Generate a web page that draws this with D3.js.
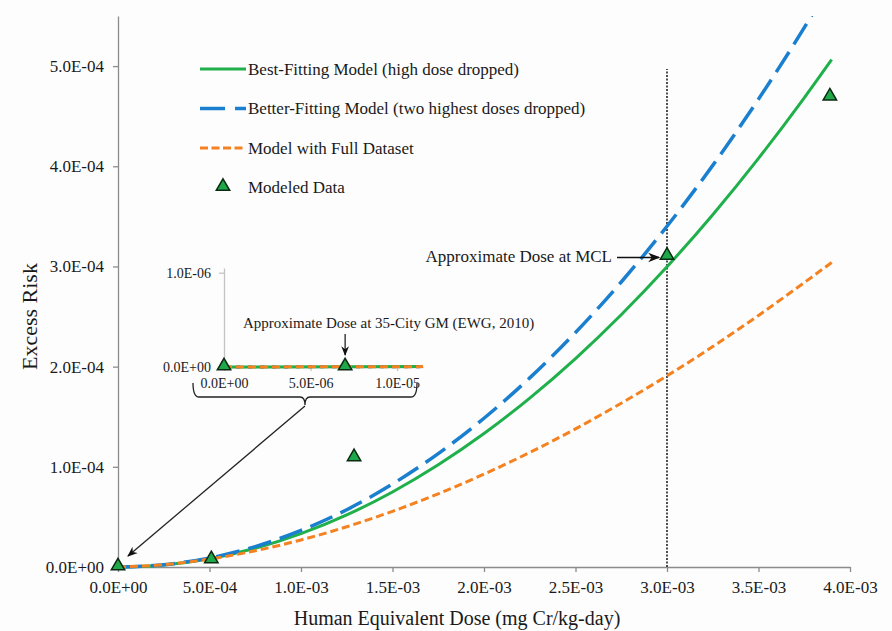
<!DOCTYPE html>
<html>
<head>
<meta charset="utf-8">
<script src="https://cdn.jsdelivr.net/npm/d3@7"></script>
<style>
  body { margin: 0; background: #fdfdfd; }
  text { font-family: "Liberation Serif", "Times New Roman", serif; fill: #1a1a1a; }
</style>
</head>
<body>
<script>
// dose grid (mg Cr/kg-day) and model curves (excess risk, x 1e-4)
var doseGrid = [0, 0.25e-3, 0.5e-3, 0.75e-3, 1.0e-3, 1.25e-3, 1.5e-3, 1.75e-3, 2.0e-3,
                2.25e-3, 2.5e-3, 2.75e-3, 3.0e-3, 3.25e-3, 3.5e-3, 3.75e-3, 3.9e-3];
var bestFit   = [0, 0.021, 0.083, 0.187, 0.333, 0.520, 0.749, 1.020, 1.332,
                 1.686, 2.081, 2.518, 2.997, 3.517, 4.079, 4.683, 5.065];
var betterFit = [0, 0.023, 0.090, 0.204, 0.365, 0.572, 0.828, 1.132, 1.485,
                 1.888, 2.341, 2.845, 3.401, 4.009, 4.670, 5.384, 5.840];
var fullData  = [0, 0.023, 0.079, 0.162, 0.270, 0.402, 0.556, 0.731, 0.927,
                 1.143, 1.379, 1.635, 1.908, 2.200, 2.511, 2.839, 3.040];

// modeled data points
var pointDose = [0, 0.51e-3, 1.29e-3, 3.0e-3, 3.89e-3];
var pointRisk = [0, 0.07e-4, 1.09e-4, 3.1e-4, 4.69e-4];

// inset (low dose zoom)
var insetDose = [0, 1.15e-5];
var insetRisk = [0, 4e-9];
var insetPointDose = [0, 7.0e-6];
var insetPointRisk = [0, 0];

var xTicks = [0, 5e-4, 1e-3, 1.5e-3, 2e-3, 2.5e-3, 3e-3, 3.5e-3, 4e-3];
var yTicks = [0, 1e-4, 2e-4, 3e-4, 4e-4, 5e-4];
var insetXTicks = [0, 5e-6, 1e-5];
var insetYTicks = [0, 1e-6];

var mclDose = 3.0e-3;

var legendLabels = ["Best-Fitting Model (high dose dropped)",
                    "Better-Fitting Model (two highest doses dropped)",
                    "Model with Full Dataset",
                    "Modeled Data"];

var GREEN = "#1fb04b", BLUE = "#1b7fcf", ORANGE = "#f58220";
var AXIS = "#8c8c8c";

var WIDTH = 892, HEIGHT = 631;

var sci = function(d) {
	if (d === 0) return "0.0E+00";
	var s = d.toExponential(1).toUpperCase();
	return s.replace(/E([+-])(\d)$/, "E$10$2");
};

var svg = d3.select("body").append("svg")
	.attr("width", WIDTH)
	.attr("height", HEIGHT);

var defs = svg.append("defs");
defs.append("clipPath").attr("id", "plotClip")
	.append("rect").attr("x", 100).attr("y", 16).attr("width", 780).attr("height", 560);
defs.append("marker").attr("id", "arrow")
	.attr("viewBox", "0 0 10 10").attr("refX", 9).attr("refY", 5)
	.attr("markerWidth", 8).attr("markerHeight", 8).attr("orient", "auto")
	.append("path").attr("d", "M0,1 L10,5 L0,9 L3,5 Z").attr("fill", "#111");

var x = d3.scaleLinear().domain([0, 4e-3]).range([118, 850]);
var y = d3.scaleLinear().domain([0, 5.5e-4]).range([567, 16]);

// axes
var xAxis = svg.append("g").attr("transform", "translate(0," + y(0) + ")")
	.call(d3.axisBottom(x).tickValues(xTicks).tickFormat(sci).tickSizeInner(5).tickSizeOuter(0).tickPadding(9));
var yAxis = svg.append("g").attr("transform", "translate(" + x(0) + ",0)")
	.call(d3.axisLeft(y).tickValues(yTicks).tickFormat(sci).tickSizeInner(5).tickSizeOuter(0).tickPadding(9));
[xAxis, yAxis].forEach(function(g) {
	g.selectAll("path, line").attr("stroke", AXIS).attr("stroke-width", 1.3);
	g.selectAll("text").attr("font-size", 17).attr("font-family", "Liberation Serif").attr("fill", "#1a1a1a");
});

// axis titles
svg.append("text").attr("x", (x(0) + x(4e-3)) / 2 - 27).attr("y", 625)
	.attr("text-anchor", "middle").attr("font-size", 20).text("Human Equivalent Dose (mg Cr/kg-day)");
svg.append("text").attr("transform", "translate(37," + y(2.5e-4) + ") rotate(-90)")
	.attr("text-anchor", "middle").attr("font-size", 22).text("Excess Risk");

// MCL dotted line
svg.append("line")
	.attr("x1", x(mclDose)).attr("x2", x(mclDose))
	.attr("y1", y(0)).attr("y2", 69)
	.attr("stroke", "#222").attr("stroke-width", 1.6).attr("stroke-dasharray", "2,1.5");

// model curves
var curves = [
	{ vals: bestFit, color: GREEN, width: 3, dash: null },
	{ vals: betterFit, color: BLUE, width: 3.5, dash: "24,9" },
	{ vals: fullData, color: ORANGE, width: 3, dash: "8,4" }
];
var line = d3.line()
	.x(function(d) { return x(d[0]); })
	.y(function(d) { return y(d[1]); })
	.curve(d3.curveMonotoneX);

var plot = svg.append("g").attr("clip-path", "url(#plotClip)");
curves.forEach(function(c) {
	var pts = doseGrid.map(function(d, i) { return [d, c.vals[i] * 1e-4]; });
	plot.append("path").datum(pts)
		.attr("d", line)
		.attr("fill", "none")
		.attr("stroke", c.color)
		.attr("stroke-width", c.width)
		.attr("stroke-dasharray", c.dash);
});

var tri = d3.symbol().type(d3.symbolTriangle).size(78);
svg.append("g").selectAll("path")
	.data(pointDose.map(function(d, i) { return [d, pointRisk[i]]; }))
	.enter().append("path")
	.attr("d", tri)
	.attr("transform", function(d) { return "translate(" + x(d[0]) + "," + (y(d[1]) - 1) + ")"; })
	.attr("fill", "#1fa84a").attr("stroke", "#0b2a12").attr("stroke-width", 1.5);

// MCL annotation
svg.append("text").attr("x", x(mclDose) - 55).attr("y", y(3.1e-4) + 6)
	.attr("text-anchor", "end").attr("font-size", 17).text("Approximate Dose at MCL");
svg.append("line")
	.attr("x1", x(mclDose) - 50).attr("x2", x(mclDose) - 8)
	.attr("y1", y(3.1e-4) + 1).attr("y2", y(3.1e-4) + 1)
	.attr("stroke", "#111").attr("stroke-width", 1.5).attr("marker-end", "url(#arrow)");

// legend
var legend = svg.append("g");
legendLabels.forEach(function(label, i) {
	var ly = 69 + i * 39.5;
	if (i < 3) {
		legend.append("line")
			.attr("x1", 200).attr("x2", 246).attr("y1", ly).attr("y2", ly)
			.attr("stroke", curves[i].color).attr("stroke-width", curves[i].width)
			.attr("stroke-dasharray", i === 1 ? "25,10" : i === 2 ? "8,3.5" : null);
	} else {
		legend.append("path").attr("d", tri)
			.attr("transform", "translate(223," + (ly - 1) + ")")
			.attr("fill", "#1fa84a").attr("stroke", "#0b2a12").attr("stroke-width", 1.5);
	}
	legend.append("text").attr("x", 248).attr("y", ly + 5.5)
		.attr("font-size", 17).text(label);
});

// inset
var ix = d3.scaleLinear().domain([0, 1.15e-5]).range([224, 423]);
var iy = d3.scaleLinear().domain([0, 1.05e-6]).range([367, 268]);

var inset = svg.append("g");
var ixAxis = inset.append("g").attr("transform", "translate(0," + iy(0) + ")")
	.call(d3.axisBottom(ix).tickValues(insetXTicks).tickFormat(sci).tickSizeInner(4).tickSizeOuter(0).tickPadding(7));
var iyAxis = inset.append("g").attr("transform", "translate(" + ix(0) + ",0)")
	.call(d3.axisLeft(iy).tickValues(insetYTicks).tickFormat(sci).tickSizeInner(5).tickSizeOuter(0).tickPadding(8));
[ixAxis, iyAxis].forEach(function(g) {
	g.selectAll("path, line").attr("stroke", "#c4c4c4").attr("stroke-width", 1.3);
	g.selectAll("text").attr("font-size", 14).attr("font-family", "Liberation Serif").attr("fill", "#2a2a2a");
});

var iline = d3.line()
	.x(function(d) { return ix(d[0]); })
	.y(function(d) { return iy(d[1]); });
curves.forEach(function(c) {
	inset.append("path")
		.datum(insetDose.map(function(d, i) { return [d, insetRisk[i]]; }))
		.attr("d", iline)
		.attr("fill", "none")
		.attr("stroke", c.color)
		.attr("stroke-width", 3)
		.attr("stroke-dasharray", c.dash ? (c.color === BLUE ? "4,8" : "8,4") : null);
});
inset.selectAll("path.pt")
	.data(insetPointDose.map(function(d, i) { return [d, insetPointRisk[i]]; }))
	.enter().append("path").attr("class", "pt")
	.attr("d", tri)
	.attr("transform", function(d) { return "translate(" + ix(d[0]) + "," + (iy(d[1]) - 1) + ")"; })
	.attr("fill", "#1fa84a").attr("stroke", "#0b2a12").attr("stroke-width", 1.5);

inset.append("text").attr("x", 243).attr("y", 328)
	.attr("font-size", 15).text("Approximate Dose at 35-City GM (EWG, 2010)");
inset.append("line")
	.attr("x1", ix(7.0e-6)).attr("x2", ix(7.0e-6))
	.attr("y1", 334).attr("y2", 355)
	.attr("stroke", "#111").attr("stroke-width", 1.2).attr("marker-end", "url(#arrow)");

// brace under the inset, and pointer to the origin
var bx0 = ix(0) - 31, bx1 = ix(1.15e-5) - 6, bmid = (bx0 + bx1) / 2, by = 397;
inset.append("path")
	.attr("d", "M" + bx0 + "," + (by - 14) + " Q" + bx0 + "," + by + " " + (bx0 + 6) + "," + by +
		" L" + (bmid - 5) + "," + by + " Q" + bmid + "," + by + " " + bmid + "," + (by + 8) +
		" Q" + bmid + "," + by + " " + (bmid + 5) + "," + by +
		" L" + (bx1 - 6) + "," + by + " Q" + bx1 + "," + by + " " + bx1 + "," + (by - 14))
	.attr("fill", "none").attr("stroke", "#222").attr("stroke-width", 1.3);
svg.append("line")
	.attr("x1", bmid).attr("y1", by + 9)
	.attr("x2", x(0) + 10).attr("y2", y(0) - 11)
	.attr("stroke", "#222").attr("stroke-width", 1.3).attr("marker-end", "url(#arrow)");
</script>
</body>
</html>
